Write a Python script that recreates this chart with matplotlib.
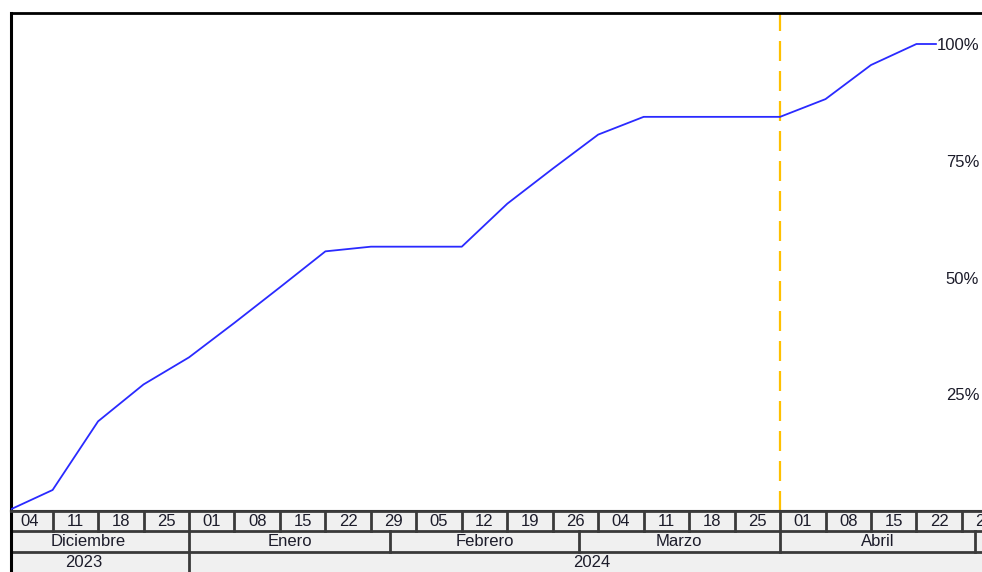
import datetime as dt
import matplotlib
matplotlib.use('Agg')
import matplotlib.pyplot as plt
import matplotlib.dates as mdates
from matplotlib.ticker import FixedLocator, FuncFormatter

# avance acumulado (%) por semana, lunes a lunes
fechas = ['2023-12-04', '2023-12-11', '2023-12-18', '2023-12-25', '2024-01-01',
          '2024-01-08', '2024-01-15', '2024-01-22', '2024-01-29', '2024-02-05',
          '2024-02-12', '2024-02-19', '2024-02-26', '2024-03-04', '2024-03-11',
          '2024-03-18', '2024-03-25', '2024-04-01', '2024-04-08', '2024-04-15',
          '2024-04-22', '2024-04-25']
avance = [0, 4.5, 19.2, 27.1, 32.9, 40.3, 47.9, 55.6, 56.6, 56.6, 56.6, 65.8,
          73.3, 80.6, 84.4, 84.4, 84.4, 84.4, 88.2, 95.5, 100, 100]
hoy = '2024-04-01'
meses = ['Diciembre', 'Enero', 'Febrero', 'Marzo', 'Abril']
marcas_y = [25, 50, 75, 100]

plt.rcParams['font.family'] = ['Liberation Sans', 'DejaVu Sans']
texto = '#1c1c2a'
borde = '#3a3a3a'

d = lambda s: mdates.date2num(dt.datetime.strptime(s, '%Y-%m-%d'))
x = [d(s) for s in fechas]
ene1 = d('2024-01-01')
ppd = 6.495  # pixeles por dia
x0 = ene1 - (189 - 11) / ppd
x1 = ene1 + (982 - 189) / ppd

W, H = 982, 572
fig = plt.figure(figsize=(W / 100, H / 100), dpi=100)
ax = fig.add_axes([11 / W, (H - 511) / H, 1 - 11 / W, (511 - 13) / H])
ax.plot(x, avance, color='#2a2aff', lw=1.3, zorder=3)
ax.axvline(d(hoy), color='#ffc000', lw=1.6, linestyle=(0, (9, 4.5)), zorder=2)
ax.set_xlim(x0, x1)
ax.set_ylim(0, 100 + (44 - 13) / 4.67)

ax.set_xticks([])
ax.yaxis.tick_right()
ax.yaxis.set_major_locator(FixedLocator(marcas_y))
ax.yaxis.set_major_formatter(FuncFormatter(lambda v, p: f'{v:.0f}%'))
ax.tick_params(axis='y', length=0, pad=-2, labelsize=12, labelcolor=texto)
for lab in ax.get_yticklabels():
    lab.set_horizontalalignment('right')
    lab.set_bbox(dict(facecolor='white', edgecolor='none', pad=0.5))
    lab.set_zorder(5)
ax.spines['right'].set_visible(False)
ax.spines['top'].set_linewidth(2)
ax.spines['left'].set_linewidth(2.2)
ax.spines['bottom'].set_linewidth(1.5)
ax.spines['bottom'].set_color('#222222')

# escala de tiempo: semanas, meses y años
bx = fig.add_axes([11 / W, 0, 1 - 11 / W, (H - 511) / H], facecolor='#f0f0f0')
bx.set_xlim(x0, x1)
bx.set_ylim(0, 3)
bx.set_xticks([])
bx.set_yticks([])
for s in ['right', 'bottom']:
    bx.spines[s].set_visible(False)
bx.spines['top'].set_linewidth(2)
bx.spines['top'].set_color(borde)
bx.spines['left'].set_linewidth(2.2)

for yy in [1, 2]:
    bx.axhline(yy, color=borde, lw=2)

lunes = d('2023-12-04')
while lunes < x1:
    bx.plot([lunes, lunes], [2, 3], color=borde, lw=2)
    dia = mdates.num2date(lunes).strftime('%d')
    bx.text(lunes + 3.5, 2.48, dia, ha='center', va='center', fontsize=12,
            color=texto, clip_on=True)
    lunes += 7

inicio_mes = [d('2023-12-01'), d('2024-01-01'), d('2024-02-01'), d('2024-03-01'),
              d('2024-04-01'), d('2024-05-01')]
for i, nombre in enumerate(meses):
    a, b = inicio_mes[i], inicio_mes[i + 1]
    bx.plot([a, a], [1, 2], color=borde, lw=2)
    bx.text((a + b) / 2, 1.48, nombre, ha='center', va='center', fontsize=12,
            color=texto, clip_on=True)
bx.plot([inicio_mes[-1]] * 2, [1, 2], color=borde, lw=2)

bx.plot([ene1, ene1], [0, 1], color=borde, lw=2)
bx.text((x0 + ene1) / 2 - 2.5, 0.48, '2023', ha='center', va='center',
        fontsize=12, color=texto, clip_on=True)
bx.text((ene1 + x1) / 2 + 1, 0.48, '2024', ha='center', va='center',
        fontsize=12, color=texto, clip_on=True)

fig.savefig('out.png', dpi=100)
